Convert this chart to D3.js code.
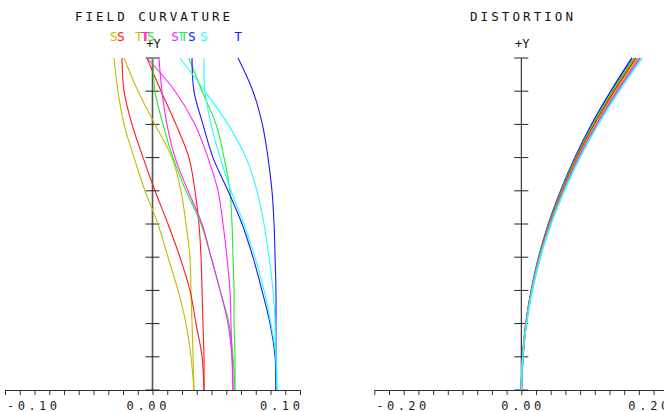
<!DOCTYPE html>
<html><head><meta charset="utf-8">
<script src="https://cdn.jsdelivr.net/npm/d3@7"></script>
<style>
html,body{margin:0;padding:0;background:#fff;}
svg{display:block;}
text{font-family:"DejaVu Sans Mono",monospace;}
</style></head>
<body>
<svg id="c" width="664" height="412"></svg>
<script>
// ---------- DATA ----------
const fields = [0, 0.1, 0.2, 0.3, 0.4, 0.5, 0.6, 0.7, 0.8, 0.9, 1.0];

// Field curvature (mm), sampled at fields 0..1
const fcYellowS  = [0.0281, 0.0261, 0.0227, 0.0173, 0.0105, 0.0037, -0.0051, -0.0125, -0.0193, -0.0234, -0.0261];
const fcYellowT  = [0.0281, 0.0275, 0.0268, 0.0261, 0.0254, 0.0227, 0.0193, 0.0132, 0.0017, -0.0098, -0.0193];
const fcRedS     = [0.0349, 0.0336, 0.0295, 0.0254, 0.0186, 0.0105, 0.0017, -0.0064, -0.0139, -0.0193, -0.0207];
const fcRedT     = [0.0349, 0.0349, 0.0342, 0.0336, 0.0329, 0.0315, 0.0288, 0.0247, 0.0159, 0.0058, -0.0037];
const fcMagentaS = [0.0546, 0.0539, 0.0512, 0.0458, 0.0397, 0.0336, 0.0241, 0.0153, 0.0098, 0.0064, 0.0044];
const fcMagentaT = [0.0546, 0.0539, 0.0532, 0.0525, 0.0505, 0.0478, 0.0444, 0.0376, 0.0288, 0.0153, -0.0037];
const fcGreenS   = [0.0559, 0.0546, 0.0519, 0.0458, 0.0397, 0.0329, 0.0227, 0.0139, 0.0071, 0.0017, 0.0003];
const fcGreenT   = [0.0559, 0.0559, 0.0553, 0.0553, 0.0546, 0.0539, 0.0525, 0.0485, 0.0431, 0.0336, 0.0247];
const fcBlueS    = [0.0837, 0.0831, 0.0797, 0.0742, 0.0681, 0.0607, 0.0512, 0.0410, 0.0342, 0.0281, 0.0268];
const fcBlueT    = [0.0837, 0.0837, 0.0837, 0.0837, 0.0831, 0.0824, 0.0810, 0.0783, 0.0745, 0.0681, 0.0580];
const fcCyanS    = [0.0844, 0.0837, 0.0803, 0.0756, 0.0695, 0.0620, 0.0532, 0.0458, 0.0397, 0.0356, 0.0349];
const fcCyanT    = [0.0844, 0.0837, 0.0831, 0.0817, 0.0790, 0.0756, 0.0708, 0.0634, 0.0512, 0.0356, 0.0186];

// Distortion (%), sampled at fields 0..1
const dBlue    = [0, 0.0020, 0.0063, 0.0136, 0.0237, 0.0370, 0.0537, 0.0731, 0.0958, 0.1219, 0.1506];
const dGreen   = [0, 0.0020, 0.0064, 0.0139, 0.0241, 0.0377, 0.0547, 0.0744, 0.0976, 0.1241, 0.1533];
const dRed     = [0, 0.0020, 0.0065, 0.0142, 0.0245, 0.0384, 0.0557, 0.0757, 0.0994, 0.1263, 0.1561];
const dYellow  = [0, 0.0021, 0.0066, 0.0144, 0.0250, 0.0391, 0.0567, 0.0771, 0.1011, 0.1286, 0.1588];
const dMagenta = [0, 0.0021, 0.0067, 0.0146, 0.0254, 0.0397, 0.0576, 0.0783, 0.1028, 0.1307, 0.1615];
const dCyan    = [0, 0.0021, 0.0069, 0.0149, 0.0258, 0.0404, 0.0586, 0.0797, 0.1045, 0.1329, 0.1642];

// Legend letters (positions in mm at max field) for field curvature
const legendText  = ["S", "S", "T", "T", "T", "S", "S", "T", "T", "S", "S", "T"];
const legendValue = [-0.0261, -0.0214, -0.0092, -0.0051, -0.0044, -0.0010, 0.0153, 0.0193, 0.0214, 0.0268, 0.0349, 0.0580];
const legendColor = ["yellow", "red", "yellow", "red", "magenta", "green", "magenta", "cyan", "green", "blue", "cyan", "blue"];

const fcTickLabels = ["-0.10", "0.00", "0.10"];
const dTickLabels  = ["-0.20", "0.00", "0.20"];

// ---------- STYLE ----------
const colors = {yellow: "#c4bc00", red: "#ff1a1a", green: "#22ee22", magenta: "#ff22ff", blue: "#1a1aff", cyan: "#22ffff"};

const svg = d3.select("#c");

// ---------- SCALES ----------
const xFC = d3.scaleLinear().domain([-0.10, 0.10]).range([5, 300]);
const xD  = d3.scaleLinear().domain([-0.20, 0.20]).range([374.3, 668.3]);
const yF  = d3.scaleLinear().domain([0, 1]).range([390, 58]);

function drawFrame(x, tickStep, labels, title, titleX, titleLen, centerShift, axisColor, axisW) {
  const g = svg.append("g");
  const [d0, d1] = x.domain();
  const n = Math.round((d1 - d0) / tickStep);
  const xt = d3.range(n + 1).map(i => d0 + i * tickStep);
  // x axis
  const ax = d3.axisBottom(x).tickValues(xt).tickSize(5).tickSizeOuter(0).tickFormat("");
  const axg = g.append("g").attr("transform", "translate(0,390)").call(ax);
  axg.select(".domain").attr("stroke", "#333").attr("stroke-width", 1);
  axg.selectAll(".tick line").attr("stroke", "#333");
  // y axis
  g.append("line").attr("x1", x(0)).attr("x2", x(0)).attr("y1", yF(0)).attr("y2", yF(1))
    .attr("stroke", axisColor).attr("stroke-width", axisW);
  g.selectAll(".yt").data(fields).join("line")
    .attr("x1", x(0) - 7).attr("x2", x(0) + 7)
    .attr("y1", d => yF(d)).attr("y2", d => yF(d))
    .attr("stroke", "#222").attr("stroke-width", 1);
  g.append("text").attr("x", x(0) + 1).attr("y", 48).attr("text-anchor", "middle")
    .attr("font-size", 12).attr("fill", "#111").text("+Y");
  // tick labels
  const lab = [
    {t: labels[0], x: x(d0) + 2, len: 50},
    {t: labels[1], x: x(0) - 20 + centerShift, len: 40},
    {t: labels[2], x: x(d1) - 40, len: 40}
  ];
  g.selectAll(".tl").data(lab).join("text")
    .attr("x", d => d.x).attr("y", 410)
    .attr("font-size", 12).attr("fill", "#222")
    .attr("textLength", d => d.len).attr("lengthAdjust", "spacing")
    .text(d => d.t);
  // title
  g.append("text").attr("x", titleX).attr("y", 21).attr("font-size", 12.5).attr("fill", "#111")
    .attr("textLength", titleLen).attr("lengthAdjust", "spacing").text(title);
}

drawFrame(xFC, 0.01, fcTickLabels, "FIELD CURVATURE", 75, 155, -6, "#555", 1.6);
drawFrame(xD, 0.02, dTickLabels, "DISTORTION", 470, 103, 0, "#111", 1);

// ---------- CURVES ----------
function curve(x, vals, color, w) {
  const line = d3.line().x(d => x(d[1])).y(d => yF(d[0])).curve(d3.curveCatmullRom.alpha(0.5));
  svg.append("path").datum(fields.map((f, i) => [f, vals[i]]))
    .attr("d", line).attr("fill", "none").attr("stroke", colors[color]).attr("stroke-width", w || 1.1);
}

const fcSeries = [
  [fcYellowS, "yellow"], [fcYellowT, "yellow"],
  [fcRedS, "red"], [fcRedT, "red"],
  [fcGreenS, "green"], [fcGreenT, "green"],
  [fcMagentaS, "magenta"], [fcMagentaT, "magenta"],
  [fcBlueS, "blue"], [fcBlueT, "blue"],
  [fcCyanS, "cyan"], [fcCyanT, "cyan"]
];
fcSeries.forEach(s => curve(xFC, s[0], s[1]));

const dSeries = [[dBlue, "blue"], [dGreen, "green"], [dRed, "red"], [dYellow, "yellow"], [dMagenta, "magenta"], [dCyan, "cyan"]];
dSeries.forEach(s => curve(xD, s[0], s[1], 1.6));

// ---------- LEGEND LETTERS ----------
svg.selectAll(".lg").data(legendText).join("text")
  .attr("x", (d, i) => xFC(legendValue[i])).attr("y", 41)
  .attr("text-anchor", "middle").attr("font-size", 13)
  .attr("fill", (d, i) => colors[legendColor[i]]).text(d => d);
</script>
</body></html>
